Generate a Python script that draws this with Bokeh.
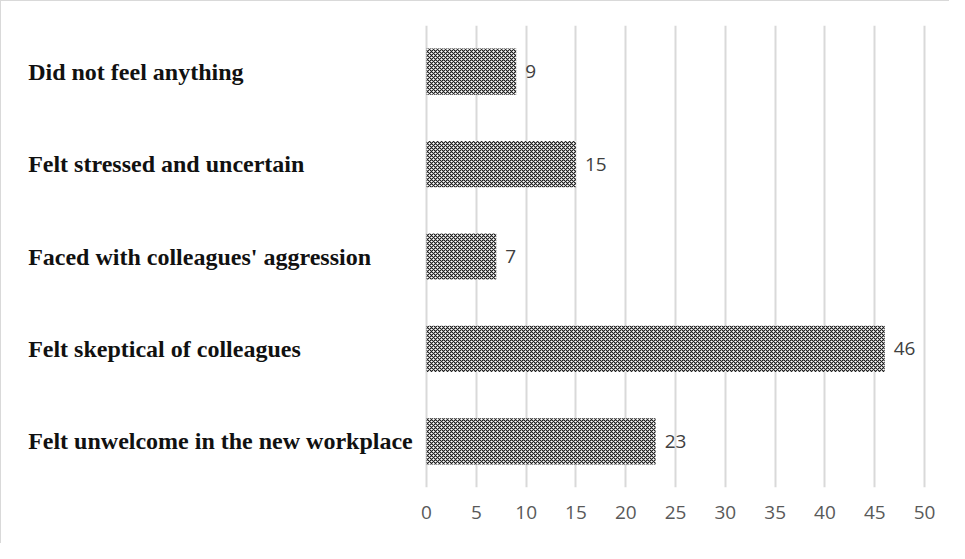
from bokeh.plotting import figure
from bokeh.models import ColumnDataSource, FixedTicker, FactorRange, Range1d
from bokeh.core.properties import value
from bokeh.embed import file_html
from bokeh.resources import INLINE

categories = [
    "Felt unwelcome in the new workplace",
    "Felt skeptical of colleagues",
    "Faced with colleagues' aggression",
    "Felt stressed and uncertain",
    "Did not feel anything",
]
counts = [23, 46, 7, 15, 9]
x_ticks = [0, 5, 10, 15, 20, 25, 30, 35, 40, 45, 50]

label_x = -40.0

src = ColumnDataSource(dict(
    cat=categories,
    val=counts,
    txt=[str(v) for v in counts],
    lx=[label_x] * len(categories),
))

p = figure(
    width=949, height=543,
    y_range=FactorRange(*categories, range_padding=0),
    x_range=Range1d(-41.47, 51.4),
    output_backend="svg", toolbar_location=None,
    min_border_left=12, min_border_right=12, min_border_top=24, min_border_bottom=57,
)
p.styles = {"border-top": "1px solid #d9d9d9", "border-left": "1px solid #d9d9d9"}
p.outline_line_color = None
p.background_fill_color = "white"
p.border_fill_color = "white"

p.hbar(y="cat", right="val", left=0, height=0.5, source=src,
       fill_color="white", line_color=None,
       hatch_pattern="diagonal_cross", hatch_color="#1a1a1a",
       hatch_scale=4, hatch_weight=1.2)

p.text(x="val", y="cat", text="txt", source=src, x_offset=9,
       text_align="left", text_baseline="middle",
       text_font=value("Open Sans"), text_font_size="19px", text_color="#404040")

p.text(x="lx", y="cat", text="cat", source=src,
       text_align="left", text_baseline="middle",
       text_font=value("Liberation Serif"), text_font_style="bold",
       text_font_size="24px", text_color="#111111")

p.yaxis.visible = False
p.ygrid.grid_line_color = None

p.xaxis.ticker = FixedTicker(ticks=x_ticks)
p.xaxis.axis_line_color = None
p.xaxis.major_tick_line_color = None
p.xaxis.minor_tick_line_color = None
p.xaxis.major_label_standoff = 12
p.xaxis.major_label_text_font = "Open Sans"
p.xaxis.major_label_text_font_size = "19px"
p.xaxis.major_label_text_color = "#595959"
p.xgrid.ticker = FixedTicker(ticks=x_ticks)
p.xgrid.grid_line_color = "#d9d9d9"
p.xgrid.grid_line_width = 2

open("out.html", "w").write(file_html(p, INLINE))
